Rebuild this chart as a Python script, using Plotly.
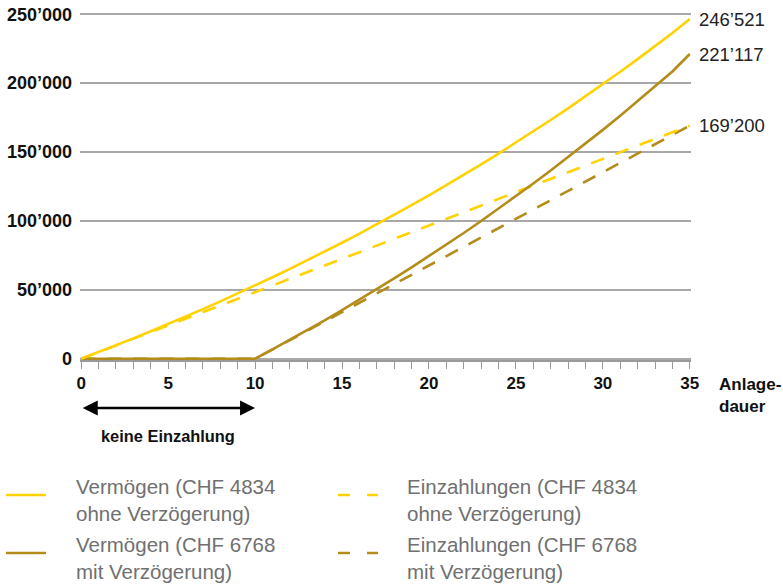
import plotly.graph_objects as go

# ---- data ----
years = list(range(0, 36))
vermoegen_ohne = [0, 4834, 9770, 14809, 19954, 25206, 30570, 36046, 41637, 47345,
                  53174, 59124, 65200, 71403, 77737, 84203, 90807, 97546, 104429, 111456,
                  118630, 125956, 133435, 141071, 148867, 156828, 164955, 173253, 181726, 190376,
                  199208, 208225, 217432, 226832, 236430, 246521]
years_mit = list(range(10, 36))
vermoegen_mit = [0, 6768, 13678, 20733, 27937, 35291, 42801, 50468, 58295, 66287,
                 74447, 82779, 91286, 99971, 108838, 117892, 127136, 136575, 146212, 156052,
                 166095, 176348, 186817, 197505, 208426, 221117]
einz_ohne_x = [0, 35]
einz_ohne_y = [0, 169200]
einz_mit_x = [0, 10, 35]
einz_mit_y = [0, 0, 169200]
vermoegen_mit_full_x = [0] + years_mit
vermoegen_mit_full_y = [0] + vermoegen_mit

y_tickvals = [0, 50000, 100000, 150000, 200000, 250000]
y_ticktext = ["0", "50’000", "100’000", "150’000", "200’000", "250’000"]
x_tickvals = [0, 5, 10, 15, 20, 25, 30, 35]
end_labels = [(246521, "246’521"), (221117, "221’117"), (169200, "169’200")]
legend_items = [
    ("Vermögen (CHF 4834<br>ohne Verzögerung)", "yellow", "solid"),
    ("Einzahlungen (CHF 4834<br>ohne Verzögerung)", "yellow", "dash"),
    ("Vermögen (CHF 6768<br>mit Verzögerung)", "brown", "solid"),
    ("Einzahlungen (CHF 6768<br>mit Verzögerung)", "brown", "dash"),
]

YELLOW = "#FFD200"
BROWN = "#B48C1A"
COLORS = {"yellow": YELLOW, "brown": BROWN}
FONT = "Liberation Sans, Arial, sans-serif"

W, H = 783, 585
ML, MR, MT, MB = 80, 92, 13, 225
PW, PH = W - ML - MR, H - MT - MB


def px(x):
    return (x - ML) / PW


def py(y):
    return (H - MB - y) / PH


fig = go.Figure()
dash_pat = "14px,12px"
fig.add_trace(go.Scatter(x=einz_mit_x, y=einz_mit_y, mode="lines",
                         line=dict(color=BROWN, width=2.6, dash=dash_pat), hoverinfo="skip"))
fig.add_trace(go.Scatter(x=einz_ohne_x, y=einz_ohne_y, mode="lines",
                         line=dict(color=YELLOW, width=2.6, dash=dash_pat), hoverinfo="skip"))
fig.add_trace(go.Scatter(x=vermoegen_mit_full_x, y=vermoegen_mit_full_y, mode="lines",
                         line=dict(color=BROWN, width=2.6), hoverinfo="skip"))
fig.add_trace(go.Scatter(x=years, y=vermoegen_ohne, mode="lines",
                         line=dict(color=YELLOW, width=2.6), hoverinfo="skip"))

annotations = []
for val, txt in end_labels:
    annotations.append(dict(x=1, xref="paper", xshift=6, y=val, yref="y", text=txt,
                            showarrow=False, xanchor="left", yanchor="middle",
                            font=dict(family=FONT, size=18.5, color="#222222")))

annotations.append(dict(x=px(717), y=py(395), xref="paper", yref="paper",
                        text="Anlage-<br>dauer", showarrow=False, xanchor="left",
                        yanchor="middle", align="left",
                        font=dict(family=FONT, size=17, color="#111111", weight="bold")))

# double-headed arrow "keine Einzahlung"
annotations.append(dict(x=10, xref="x", y=py(408), yref="paper", ax=0, axref="x",
                        ay=0, ayref="pixel", text="", showarrow=True,
                        arrowhead=2, arrowside="end+start", arrowsize=1.2,
                        arrowwidth=2.5, arrowcolor="#000000"))
annotations.append(dict(x=5, xref="x", y=py(436), yref="paper", text="keine Einzahlung",
                        showarrow=False, xanchor="center", yanchor="middle",
                        font=dict(family=FONT, size=16.4, color="#111111", weight="bold")))

shapes = []
leg_pos = [(6, 46, 74, 495), (338, 378, 405, 495), (6, 46, 74, 553), (338, 378, 405, 553)]
for (label, col, style), (x0, x1, tx, ly) in zip(legend_items, leg_pos):
    shapes.append(dict(type="line", xref="paper", yref="paper",
                       x0=px(x0), x1=px(x1), y0=py(ly), y1=py(ly),
                       line=dict(color=COLORS[col], width=2.6,
                                 dash="solid" if style == "solid" else "12px,17px")))
    annotations.append(dict(x=px(tx), y=py(ly + 5), xref="paper", yref="paper",
                            text=label, showarrow=False, xanchor="left", yanchor="middle",
                            align="left",
                            font=dict(family=FONT, size=20.5, color="#707070")))

fig.update_layout(
    width=W, height=H,
    margin=dict(l=ML, r=MR, t=MT, b=MB, autoexpand=False),
    paper_bgcolor="white", plot_bgcolor="white",
    showlegend=False,
    shapes=shapes,
    annotations=annotations,
    xaxis=dict(range=[-0.07, 35.07], tickvals=x_tickvals, ticks="outside", ticklen=7,
               tickcolor="#9a9a9a", tickwidth=1.2, automargin=False,
               minor=dict(dtick=1, ticks="outside", ticklen=7, tickcolor="#9a9a9a", tickwidth=1.2),
               showline=True, linecolor="#9a9a9a", linewidth=1.5, showgrid=False,
               zeroline=False,
               tickfont=dict(family=FONT, size=17, color="#111111", weight="bold")),
    yaxis=dict(range=[-900, 250900], tickvals=y_tickvals, ticktext=y_ticktext,
               showgrid=True, gridcolor="#a8a8a8", gridwidth=1.5, zeroline=False,
               ticks="", ticklabelstandoff=7, automargin=False,
               tickfont=dict(family=FONT, size=18, color="#111111", weight="bold")),
)

fig.write_html("out.html", config={"displayModeBar": False},
               post_script="document.body.style.margin='0';document.body.style.overflow='hidden';")
